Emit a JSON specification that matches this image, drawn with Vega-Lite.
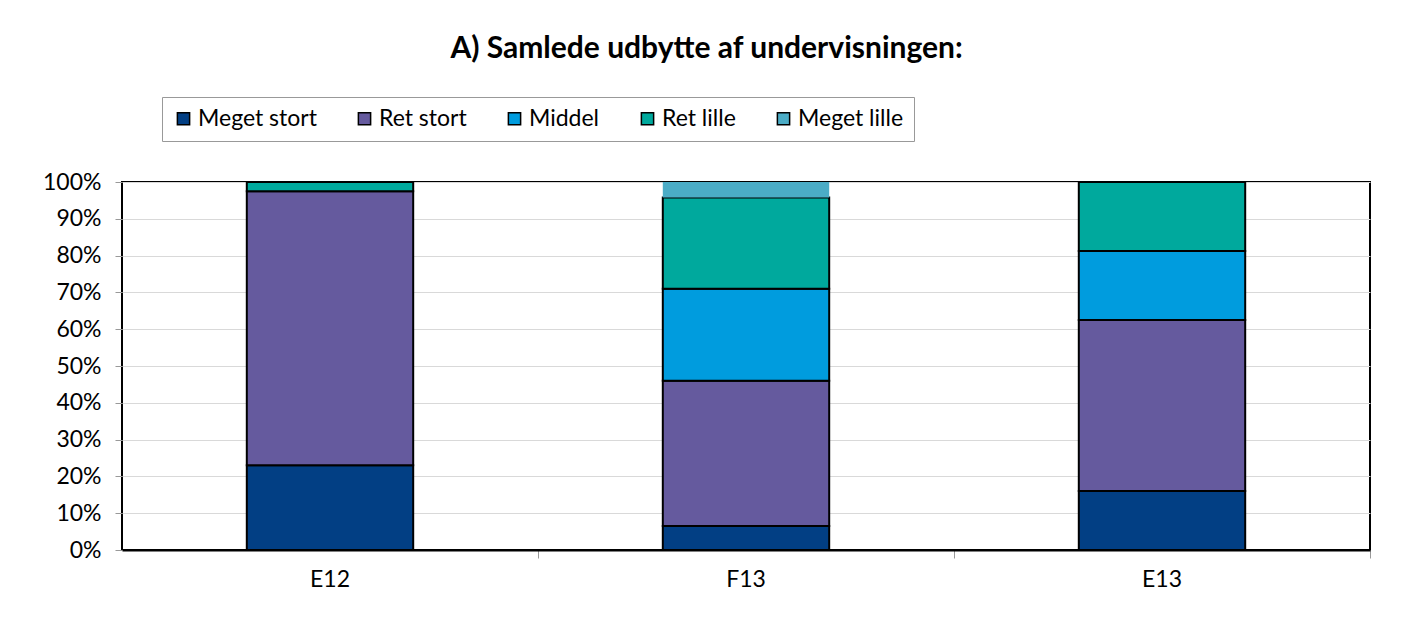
{
  "$schema": "https://vega.github.io/schema/vega-lite/v6.json",
  "width": 1248,
  "height": 368,
  "autosize": {"type": "none"},
  "padding": {"left": 122, "top": 182, "right": 32, "bottom": 78},
  "background": "white",
  "title": {
    "text": "A) Samlede udbytte af undervisningen:",
    "font": "Lato",
    "fontSize": 30,
    "fontWeight": "bold",
    "color": "black",
    "anchor": "middle",
    "frame": "bounds",
    "offset": 33
  },
  "data": {
    "values": [
      {"term": "E12", "cat": "Meget stort", "o": 1, "v": 0.23},
      {"term": "E12", "cat": "Ret stort", "o": 2, "v": 0.745},
      {"term": "E12", "cat": "Ret lille", "o": 4, "v": 0.025},
      {"term": "F13", "cat": "Meget stort", "o": 1, "v": 0.065},
      {"term": "F13", "cat": "Ret stort", "o": 2, "v": 0.395},
      {"term": "F13", "cat": "Middel", "o": 3, "v": 0.25},
      {"term": "F13", "cat": "Ret lille", "o": 4, "v": 0.248},
      {"term": "F13", "cat": "Meget lille", "o": 5, "v": 0.042},
      {"term": "E13", "cat": "Meget stort", "o": 1, "v": 0.16},
      {"term": "E13", "cat": "Ret stort", "o": 2, "v": 0.465},
      {"term": "E13", "cat": "Middel", "o": 3, "v": 0.1875},
      {"term": "E13", "cat": "Ret lille", "o": 4, "v": 0.1875}
    ]
  },
  "mark": {"type": "bar"},
  "encoding": {
    "x": {
      "field": "term",
      "type": "nominal",
      "sort": ["E12", "F13", "E13"],
      "scale": {"paddingInner": 0.6, "paddingOuter": 0.3},
      "axis": {
        "title": null,
        "labelAngle": 0,
        "labelFont": "Lato",
        "labelFontSize": 23,
        "labelColor": "black",
        "labelPadding": 10,
        "bandPosition": 1.75,
        "tickColor": "#999999",
        "tickSize": 8,
        "domainColor": "black",
        "domainWidth": 2
      }
    },
    "y": {
      "field": "v",
      "type": "quantitative",
      "stack": "zero",
      "scale": {"domain": [0, 1], "nice": false},
      "axis": {
        "title": null,
        "values": [0, 0.1, 0.2, 0.3, 0.4, 0.5, 0.6, 0.7, 0.8, 0.9, 1],
        "format": ".0%",
        "labelFont": "Lato",
        "labelFontSize": 23,
        "labelColor": "black",
        "labelPadding": 14,
        "tickColor": "#999999",
        "tickSize": 7,
        "domain": false,
        "grid": true,
        "gridColor": "#d9d9d9",
        "gridWidth": 1
      }
    },
    "color": {
      "field": "cat",
      "type": "nominal",
      "scale": {
        "domain": ["Meget stort", "Ret stort", "Middel", "Ret lille", "Meget lille"],
        "range": ["#023f84", "#655a9e", "#009cde", "#00a99d", "#4bacc6"]
      },
      "legend": {
        "title": null,
        "orient": "none",
        "direction": "horizontal",
        "legendX": 40,
        "legendY": -85,
        "padding": 10,
        "strokeColor": "#999999",
        "fillColor": "white",
        "symbolType": "square",
        "symbolSize": 150,
        "symbolOpacity": 1,
        "labelFont": "Lato",
        "labelFontSize": 23,
        "labelColor": "black",
        "labelOffset": 3,
        "columnPadding": 36,
        "encode": {
          "symbols": {
            "update": {
              "stroke": {"signal": "datum.label === 'Meget lille' ? null : 'black'"},
              "strokeWidth": {"value": 2}
            }
          }
        }
      }
    },
    "order": {"field": "o", "type": "quantitative"},
    "stroke": {
      "condition": {"test": "datum.cat === 'Meget lille'", "value": null},
      "value": "black"
    },
    "strokeWidth": {"value": 2}
  },
  "config": {
    "view": {"stroke": "black", "strokeWidth": 2},
    "font": "Lato"
  }
}
